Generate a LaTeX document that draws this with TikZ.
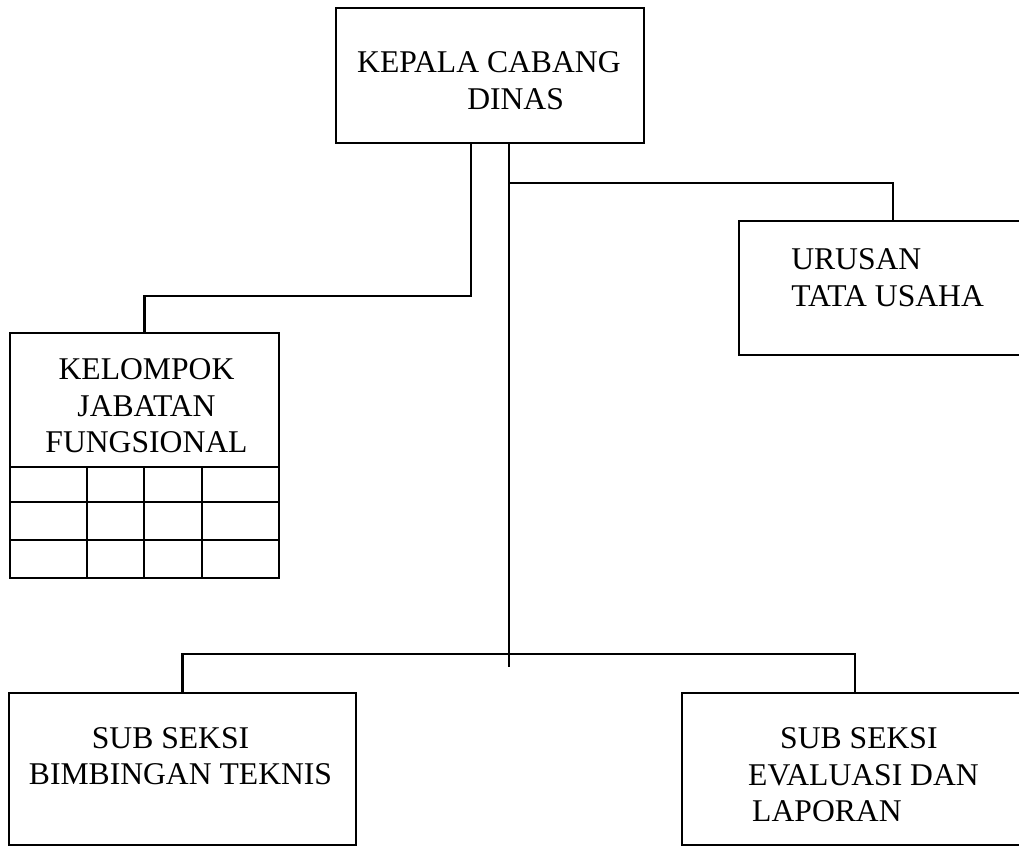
\documentclass[tikz,border=0pt]{standalone}
\usepackage{fontspec}
\setmainfont{Liberation Serif}
\usetikzlibrary{positioning, calc}

\begin{document}
\begin{tikzpicture}[
        x=0.025cm, y=-0.025cm,
        garis/.style={line width=2pt},
        kotak/.style={draw, line width=2pt, inner sep=0pt, outer sep=0pt},
        teks/.style={font=\fontsize{22.5pt}{26.3pt}\selectfont, inner sep=0pt},
        kiri/.style={teks, align=left, anchor=base west},
        tengah/.style={teks, align=center, anchor=base},
    ]
        \useasboundingbox (0,0) rectangle (1019,846);
        \clip (0,0) rectangle (1019,846);
        % kotak-kotak
        \node[kotak, minimum width=7.7cm, minimum height=3.375cm] (kepala) at (490,75.5) {};
        \node[kotak, minimum width=7.6cm, minimum height=3.35cm] (urusan) at (891,288) {};
        \node[kotak, minimum width=6.725cm, minimum height=3.35cm] (kelompok) at (144.5,400) {};
        \node[kotak, minimum width=8.675cm, minimum height=3.8cm] (bimbingan) at (182.5,769) {};
        \node[kotak, minimum width=9.6cm, minimum height=3.8cm] (evaluasi) at (874,769) {};
        % tulisan (base = garis dasar baris terakhir)
        \node[kiri] (kepala-t) at ([shift={(21,102)}]kepala.north west)
            {KEPALA CABANG\\\hspace*{2.75cm}DINAS};
        \node[kiri] (urusan-t) at ([shift={(52,86)}]urusan.north west)
            {URUSAN\\TATA USAHA};
        \node[tengah] (kelompok-t) at ([shift={(2,120)}]kelompok.north)
            {KELOMPOK\\JABATAN\\FUNGSIONAL};
        \node[tengah] (bimbingan-t) at ([shift={(-2,92)}]bimbingan.north)
            {SUB SEKSI\hspace*{0.5cm}\\BIMBINGAN TEKNIS};
        \node[kiri] (evaluasi-t) at ([shift={(66,129)}]evaluasi.north west)
            {\hspace*{0.8cm}SUB SEKSI\\EVALUASI DAN\\\hspace*{0.1cm}LAPORAN};
        % tabel di bawah kelompok jabatan fungsional
        \draw[garis] (kelompok.south west) rectangle (279,578);
        \foreach \x in {87,144,202}
            \draw[garis] (\x,467) -- (\x,578);
        \foreach \y in {502,540}
            \draw[garis] (10,\y) -- (279,\y);
        % garis penghubung
        \coordinate (tkiri) at (471,296);
        \coordinate (tkanan) at (893,183);
        \coordinate (tengah) at (509,183);
        \coordinate (ujung) at (509,667);
        \coordinate (tev) at (855,654);
        \draw[garis] (kepala.south -| tkiri) -- (tkiri) -| (kelompok.north);
        \draw[garis] (kepala.south -| ujung) -- (ujung);
        \draw[garis] (tengah) -- (tkanan) -- (urusan.north -| tkanan);
        \draw[garis] (bimbingan.north) |- (tev) -- (evaluasi.north -| tev);
    \end{tikzpicture}
\end{document}
